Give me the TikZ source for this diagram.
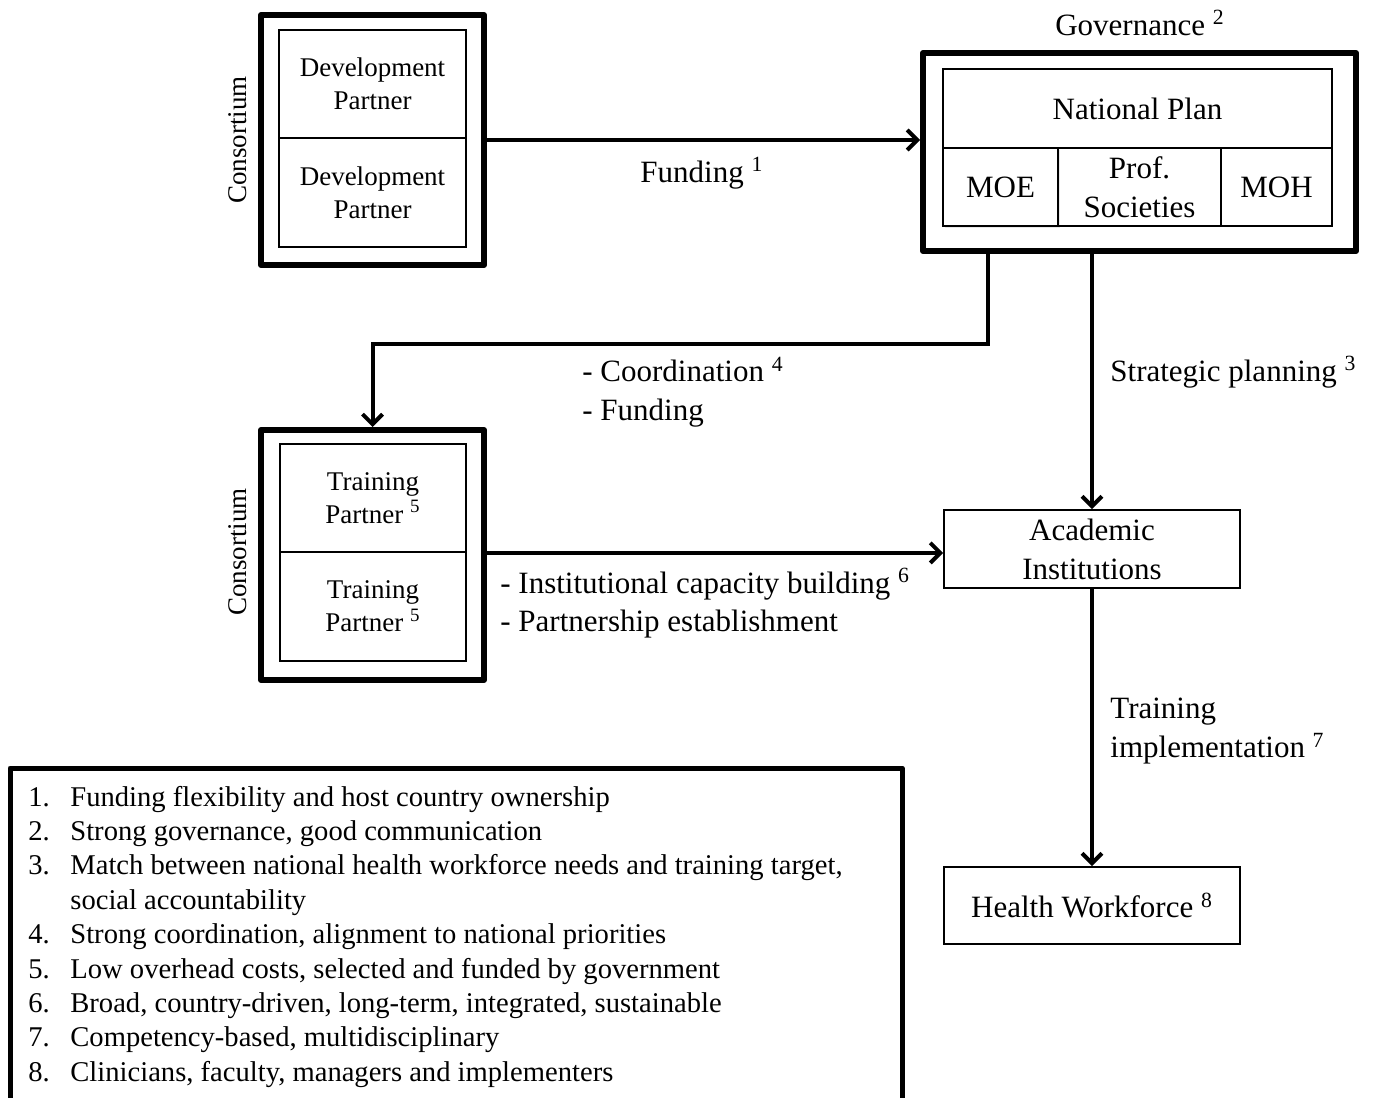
\documentclass[tikz,border=0pt]{standalone}
\usepackage{fontspec}
\setmainfont{Liberation Serif}
\usetikzlibrary{arrows.meta,shadows}
\newcommand\legnum[1]{\makebox[21pt][l]{#1}}
\begin{document}
\begin{tikzpicture}[x=0.5pt,y=-0.5pt,
  thickbox/.style={draw, line width=3pt, line join=round, inner sep=0},
  inbox/.style={draw, line width=0.9pt, align=center, inner sep=0},
  bigtxt/.style={font=\fontsize{15.5}{19.5}\selectfont},
  smalltxt/.style={font=\fontsize{13.5}{16.5}\selectfont},
  lbl/.style={inner sep=0, align=left, bigtxt},
  arr/.style={line width=2pt, -{Straight Barb[length=5pt,width=10pt]}},
]
\useasboundingbox (0,0) rectangle (1374,1097);

% Development consortium
\node[thickbox, minimum width=111.5pt, minimum height=125pt] (devc) at (372.5,140) {};
\node[inbox, smalltxt, minimum width=93.5pt, minimum height=54pt] (dev1) at (372.5,84) {Development\\Partner};
\node[inbox, smalltxt, minimum width=93.5pt, minimum height=54.5pt] (dev2) at (372.5,192.5) {Development\\Partner};
\node[smalltxt, rotate=90, inner sep=0] (cons1) at (238,140) {Consortium};

% Governance
\node[bigtxt, inner sep=0] (govlbl) at (1140,23) {Governance \textsuperscript{2}};
\node[thickbox, minimum width=216.5pt, minimum height=99pt] (gov) at (1139.5,152) {};
\node[inbox, bigtxt, minimum width=194.5pt, minimum height=39.5pt] (np) at (1137.5,108.5) {National Plan};
\node[inbox, bigtxt, minimum width=57.5pt, minimum height=39pt, fill=white,
      drop shadow={opacity=0.18, shadow xshift=1pt, shadow yshift=-1pt}] (moe) at (1000.5,187) {MOE};
\node[inbox, bigtxt, minimum width=81.5pt, minimum height=39pt] (prof) at (1139.5,187) {Prof.\\Societies};
\node[inbox, bigtxt, minimum width=55.5pt, minimum height=39pt] (moh) at (1276.5,187) {MOH};

% Training consortium
\node[thickbox, minimum width=111.5pt, minimum height=125pt] (trc) at (372.5,555) {};
\node[inbox, smalltxt, minimum width=93pt, minimum height=54pt] (tr1) at (373,498) {Training\\Partner \textsuperscript{5}};
\node[inbox, smalltxt, minimum width=93pt, minimum height=54.5pt] (tr2) at (373,606.5) {Training\\Partner \textsuperscript{5}};
\node[smalltxt, rotate=90, inner sep=0] (cons2) at (238,552) {Consortium};

% Academic and workforce
\node[inbox, bigtxt, minimum width=148pt, minimum height=39pt] (acad) at (1092,549) {Academic\\Institutions};
\node[inbox, bigtxt, minimum width=148pt, minimum height=38.5pt] (hw) at (1092,905.5) {Health Workforce \textsuperscript{8}};

% Connectors
\coordinate (c1) at (988,344);
\draw[arr] (devc.east |- 0,140) -- (gov.west |- 0,140);
\draw[arr] (gov.south -| c1) -- (c1) -| (trc.north);
\draw[arr] (gov.south -| acad.north) -- (acad.north);
\draw[arr] (trc.east |- tr1.south) -- (acad.west |- tr1.south);
\draw[arr] (acad.south) -- (hw.north);

% Labels
\node[lbl, anchor=west] (lfund) at (640,173) {Funding \textsuperscript{1}};
\node[lbl, anchor=west] (lcoord) at (582,392) {- Coordination \textsuperscript{4}\\- Funding};
\node[lbl, anchor=west] (lstrat) at (1110,372) {Strategic planning \textsuperscript{3}};
\node[lbl, anchor=west, font=\fontsize{15.5}{19}\selectfont] (linst) at (500,603) {- Institutional capacity building \textsuperscript{6}\\- Partnership establishment};
\node[lbl, anchor=west] (ltrain) at (1110,731) {Training\\implementation \textsuperscript{7}};

% Legend
\draw[line width=2.5pt, line join=round] (10,1100) -- (10,768) -- (902,768) -- (902,1100);
\node[inner sep=0, anchor=base west, font=\fontsize{14.3}{17.2}\selectfont] (legend) at (28,806) {%
\begin{tabular}[t]{@{}l@{}}
\legnum{1.}Funding flexibility and host country ownership\\
\legnum{2.}Strong governance, good communication\\
\legnum{3.}Match between national health workforce needs and training target,\\
\legnum{}social accountability\\
\legnum{4.}Strong coordination, alignment to national priorities\\
\legnum{5.}Low overhead costs, selected and funded by government\\
\legnum{6.}Broad, country-driven, long-term, integrated, sustainable\\
\legnum{7.}Competency-based, multidisciplinary\\
\legnum{8.}Clinicians, faculty, managers and implementers
\end{tabular}};
\end{tikzpicture}
\end{document}
